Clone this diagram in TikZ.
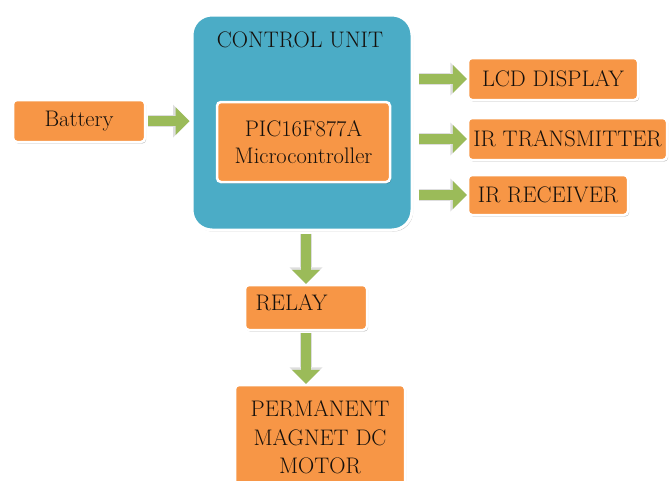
\documentclass[tikz,border=0pt]{standalone}
\usetikzlibrary{arrows.meta,shadows,calc}
\definecolor{boxorange}{HTML}{F79646}
\definecolor{unitteal}{HTML}{4BACC6}
\definecolor{flowgreen}{HTML}{9BBB59}
\definecolor{inktext}{HTML}{15100C}

\tikzset{
  x=1pt, y=-1pt,
  boxshadow/.style={drop shadow={shadow xshift=1.2pt, shadow yshift=-1.6pt, fill=black, opacity=0.22}},
  block/.style={draw=white, line width=2.5pt, fill=boxorange, rounded corners=4pt,
    boxshadow, inner sep=0pt, text=inktext, font=\fontsize{22.5}{27}\selectfont},
  unit/.style={draw=white, line width=3pt, fill=unitteal, rounded corners=20pt,
    boxshadow, inner sep=0pt},
  caption/.style={inner sep=0pt, text=inktext, font=\fontsize{22.5}{27}\selectfont},
  flow/.style={draw=flowgreen, line width=10pt,
    -{Triangle[width=28pt,length=14pt,line width=0pt]},
    preaction={draw=black!13, line width=12.5pt,
      -{Triangle[width=33pt,length=16.5pt,line width=0pt]}}},
}

\begin{document}
\begin{tikzpicture}
\useasboundingbox (0,0) rectangle (669,480);

% power source
\node[block, minimum width=132pt, minimum height=42pt] (bat) at (79,121) {Battery};

% control unit with the microcontroller inside
\node[unit, minimum width=220pt, minimum height=215pt] (cu) at (302,122.5) {};
\node[caption] (cutitle) at (300,40) {CONTROL UNIT};
\node[block, minimum width=173pt, minimum height=80pt, align=center] (pic) at (303.5,142)
  {PIC16F877A\\Microcontroller};

% peripherals on the right
\node[block, minimum width=170pt, minimum height=42pt] (lcd) at (553,79) {LCD DISPLAY};
\node[block, minimum width=199pt, minimum height=42pt] (irtx) at (567.5,139) {IR TRANSMITTER};
\node[block, minimum width=160pt, minimum height=40pt] (irrx) at (548,195) {IR RECEIVER};

% relay and motor below
\node[block, minimum width=122pt, minimum height=45pt] (relay) at (306,307.5) {};
\node[caption] (relaytext) at (291.5,303) {RELAY};
\node[block, minimum width=170pt, minimum height=105pt, align=center,
  font=\fontsize{22.5}{28.5}\selectfont] (motor) at (320,437.5)
  {PERMANENT\\MAGNET DC\\MOTOR};

% signal flow
\draw[flow, shorten <=2pt, shorten >=1pt] (bat.east) -- (bat.east -| cu.west);
\draw[flow, shorten <=5pt] (cu.east |- lcd.west) -- (lcd.west);
\draw[flow, shorten <=5pt] (cu.east |- irtx.west) -- (irtx.west);
\draw[flow, shorten <=5pt] (cu.east |- irrx.west) -- (irrx.west);
\draw[flow, shorten <=2pt] (relay.north |- cu.south) -- (relay.north);
\draw[flow, shorten <=2pt] (relay.south) -- (relay.south |- motor.north);
\end{tikzpicture}
\end{document}
